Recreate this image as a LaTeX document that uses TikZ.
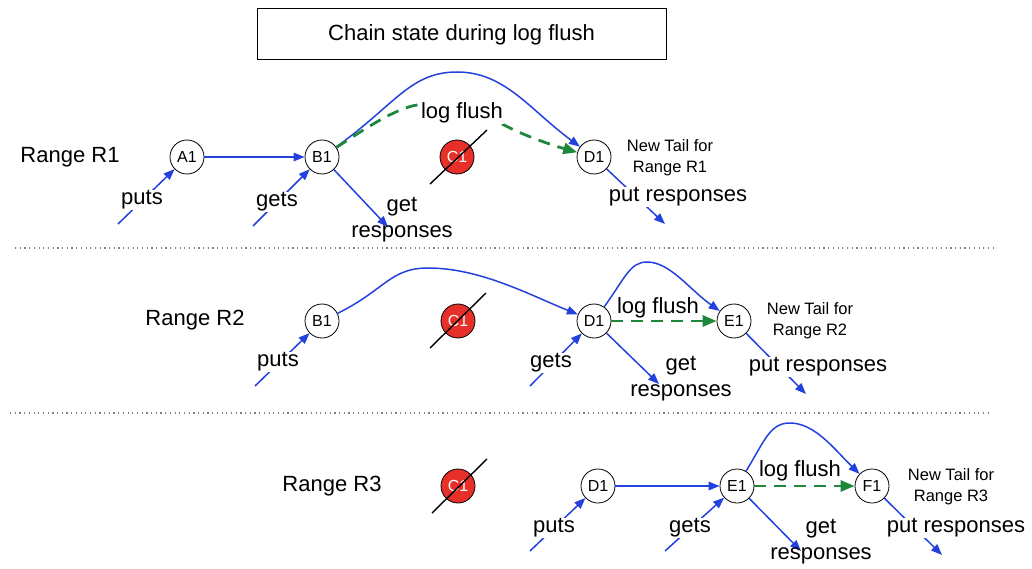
\documentclass[tikz,border=0pt]{standalone}
\usepackage{fontspec}
\setmainfont{Liberation Sans}
\usetikzlibrary{arrows.meta}

\definecolor{flowblue}{RGB}{35,65,220}
\definecolor{flushgreen}{RGB}{30,135,60}
\definecolor{deadred}{RGB}{232,48,42}

\tikzset{
  chainnode/.style={circle, draw=black, line width=0.8pt, fill=white,
    minimum size=34pt, inner sep=0pt, font=\fontsize{16}{18}\selectfont},
  deadnode/.style={chainnode, fill=deadred, text=white},
  strike/.style={draw=black, line width=1.4pt},
  flow/.style={draw=flowblue, line width=1.5pt,
    -{Triangle[length=11pt,width=8.5pt]}},
  flush/.style={draw=flushgreen, line width=2.8pt, dash pattern=on 12pt off 8pt,
    -{Triangle[length=14pt,width=11pt]}},
  rangelabel/.style={font=\fontsize{22}{26}\selectfont},
  oplabel/.style={font=\fontsize{22}{26}\selectfont, fill=white, inner sep=1pt},
  resplabel/.style={font=\fontsize{22}{26}\selectfont, align=center, inner sep=0pt},
  taillabel/.style={font=\fontsize{16.5}{21}\selectfont, align=center},
  separator/.style={draw=gray, line width=1.2pt, dash pattern=on 1.2pt off 3.5pt},
}

\begin{document}
\begin{tikzpicture}[x=1pt, y=-1pt]
\useasboundingbox (0,0) rectangle (1032,569);

% title
\node[draw=black, line width=1pt, minimum width=409pt, minimum height=51pt,
  font=\fontsize{22}{26}\selectfont] (title) at (461.5,34.5) {Chain state during log flush};

% ---------------- Range R1 ----------------
\node[rangelabel] (r1) at (70,157) {Range R1};
\node[chainnode] (a1) at (187,157) {A1};
\node[chainnode] (b1) at (322,157) {B1};
\node[deadnode]  (c1) at (457,157) {C1};
\node[chainnode] (d1) at (594,157) {D1};
\node[taillabel] (t1) at (670,158) {New Tail for\\Range R1};
\coordinate (c1sw) at (430,184);
\coordinate (c1ne) at (487,130);
\draw[strike] (c1sw) -- (c1ne);

\draw[flow] (a1) -- (b1);
\draw[flow] (b1) .. controls (395,105) and (410,72) .. (457,72)
               .. controls (505,72) and (530,110) .. (d1);
\draw[flush] (b1) .. controls (375,122) and (392,112) .. (412,106)
                .. controls (450,97) and (490,118) .. (508,127)
                .. controls (530,138) and (555,146) .. (d1);
\node[oplabel] (lf1) at (462,113) {log flush};

\coordinate (p1) at (118,224);
\draw[flow] (p1) -- (a1);
\node[oplabel] (pl1) at (142,200) {puts};
\coordinate (g1) at (253,226);
\draw[flow] (g1) -- (b1);
\node[oplabel] (gl1) at (277,202) {gets};
\coordinate (gr1) at (388,227);
\draw[flow] (b1) -- (gr1);
\node[resplabel] (grl1) at (402,220) {get\\responses};
\coordinate (pr1) at (665,224);
\draw[flow] (d1) -- (pr1);
\node[oplabel] (prl1) at (678,197) {put responses};

\coordinate (s1a) at (15,248);
\coordinate (s1b) at (997,248);
\draw[separator] (s1a) -- (s1b);

% ---------------- Range R2 ----------------
\node[rangelabel] (r2) at (195,320) {Range R2};
\node[chainnode] (b2) at (322,321) {B1};
\node[deadnode]  (c2) at (458,321) {C1};
\node[chainnode] (d2) at (594,321) {D1};
\node[chainnode] (e2) at (734,321) {E1};
\node[taillabel] (t2) at (810,321) {New Tail for\\Range R2};
\coordinate (c2sw) at (430,348);
\coordinate (c2ne) at (486,293);
\draw[strike] (c2sw) -- (c2ne);

\draw[flow] (b2) .. controls (385,290) and (390,268) .. (428,268)
               .. controls (480,268) and (530,295) .. (d2);
\draw[flow] (d2) .. controls (625,278) and (630,262) .. (647,262)
               .. controls (670,262) and (690,290) .. (e2);
\draw[flush] (d2) -- (e2);
\node[oplabel, fill=none] (lf2) at (658,308) {log flush};

\coordinate (p2) at (255,386);
\draw[flow] (p2) -- (b2);
\node[oplabel] (pl2) at (278,362) {puts};
\coordinate (g2) at (530,386);
\draw[flow] (g2) -- (d2);
\node[oplabel] (gl2) at (551,363) {gets};
\coordinate (gr2) at (659,384);
\draw[flow] (d2) -- (gr2);
\node[resplabel] (grl2) at (681,379) {get\\responses};
\coordinate (pr2) at (806,394);
\draw[flow] (e2) -- (pr2);
\node[oplabel] (prl2) at (818,367) {put responses};

\coordinate (s2a) at (10,413);
\coordinate (s2b) at (990,413);
\draw[separator] (s2a) -- (s2b);

% ---------------- Range R3 ----------------
\node[rangelabel] (r3) at (332,486) {Range R3};
\node[deadnode]  (c3) at (458,486) {C1};
\node[chainnode] (d3) at (598,486) {D1};
\node[chainnode] (e3) at (737,486) {E1};
\node[chainnode] (f3) at (872,486) {F1};
\node[taillabel] (t3) at (951,487) {New Tail for\\Range R3};
\coordinate (c3sw) at (432,513);
\coordinate (c3ne) at (487,459);
\draw[strike] (c3sw) -- (c3ne);

\draw[flow] (d3) -- (e3);
\draw[flow] (e3) .. controls (765,440) and (770,423) .. (790,423)
               .. controls (815,423) and (835,450) .. (f3);
\draw[flush] (e3) -- (f3);
\node[oplabel, fill=none] (lf3) at (800,471) {log flush};

\coordinate (p3) at (530,551);
\draw[flow] (p3) -- (d3);
\node[oplabel] (pl3) at (554,528) {puts};
\coordinate (g3) at (665,551);
\draw[flow] (g3) -- (e3);
\node[oplabel] (gl3) at (690,528) {gets};
\coordinate (gr3) at (801,551);
\draw[flow] (e3) -- (gr3);
\node[resplabel] (grl3) at (821,542) {get\\responses};
\coordinate (pr3) at (942,555);
\draw[flow] (f3) -- (pr3);
\node[oplabel] (prl3) at (956,528) {put responses};
\end{tikzpicture}
\end{document}
